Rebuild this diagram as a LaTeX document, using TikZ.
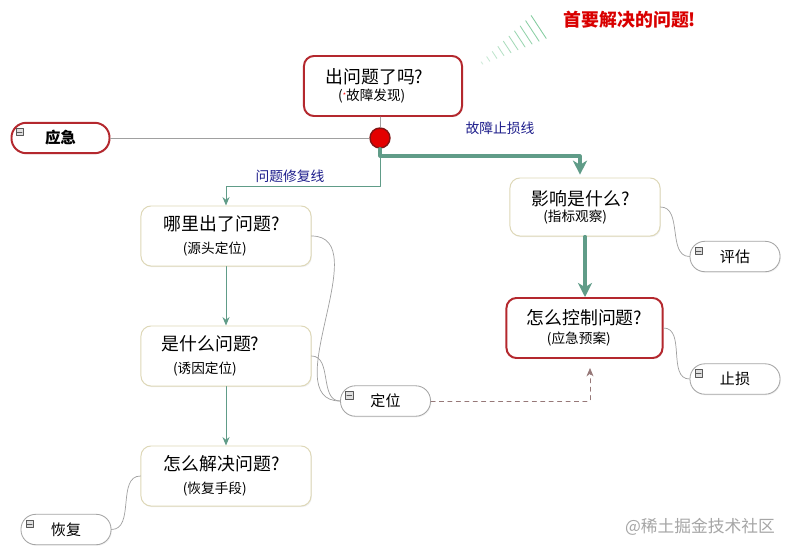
\documentclass[tikz,border=0pt]{standalone}
\usepackage{fontspec}
\setmainfont{Noto Sans CJK SC}
\usetikzlibrary{arrows.meta,shadows,calc}

\definecolor{alarmred}{RGB}{180,40,46}
\definecolor{hubred}{RGB}{228,0,0}
\definecolor{hubrim}{RGB}{130,20,20}
\definecolor{boxbeige}{RGB}{222,216,184}
\definecolor{pillgray}{RGB}{165,165,165}
\definecolor{linegreen}{RGB}{96,156,136}
\definecolor{hashgreen}{RGB}{120,200,150}
\definecolor{twiggray}{RGB}{160,160,160}
\definecolor{labelblue}{RGB}{30,30,140}
\definecolor{dashmauve}{RGB}{150,120,120}

\newcommand\qfont{\fontsize{12.7}{17}\selectfont}
\newcommand\subfont{\fontsize{9.7}{14}\selectfont}

\tikzset{
  qbox/.style={draw=boxbeige, line width=0.7pt, rounded corners=0.25cm, fill=white,
    align=center, inner sep=0pt,
    drop shadow={opacity=0.12, shadow xshift=0.6pt, shadow yshift=-0.8pt}},
  keybox/.style={qbox, draw=alarmred, line width=1.4pt},
  pill/.style={draw=pillgray, line width=0.6pt, rounded corners=0.37cm, fill=white,
    minimum width=2.25cm, minimum height=0.76cm, inner sep=0pt,
    font=\fontsize{10.7}{12}\selectfont,
    drop shadow={opacity=0.1, shadow xshift=0.6pt, shadow yshift=-0.8pt}},
  foldbox/.style={draw=gray!70!black, fill=gray!25, line width=0.3pt,
    minimum size=0.19cm, inner sep=0pt,
    path picture={\draw[line width=0.4pt] ([xshift=1pt]path picture bounding box.west)
      -- ([xshift=-1pt]path picture bounding box.east);}},
  flow/.style={draw=linegreen, line width=0.7pt, -{Stealth[length=6pt,width=5pt]}},
  mainflow/.style={draw=linegreen, line width=2.2pt, -{Stealth[length=10pt,width=10pt,inset=3pt]}},
  twig/.style={draw=twiggray, line width=0.5pt},
  lanetext/.style={text=labelblue, font=\fontsize{9.8}{11}\selectfont},
}

\begin{document}
\begin{tikzpicture}[
  x=0.025cm, y=-0.025cm,
  line cap=round,
  line join=round
]
  \def\bw{4.25cm}
  \def\bh{1.5cm}

  \useasboundingbox[fill=white] (0,0) rectangle (791,552);

  % Исходный вопрос и узел
  \node[keybox, minimum width=3.95cm, minimum height=\bh] (q0) at (383,86)
    {\qfont 出问题了吗?\hspace*{12pt}\\[0.5pt]\subfont (\raisebox{2pt}{\textcolor{red}{\tiny *}}故障发现)\hspace*{16pt}};
  \node[circle, fill=hubred, draw=hubrim, line width=1pt, minimum size=0.5cm, inner sep=0pt] (hub) at (380,138) {};

  \node[pill, draw=alarmred, line width=1.4pt, minimum width=2.45cm, font=\bfseries\fontsize{11}{12}\selectfont] (emp) at (60.5,138) {应急};

  % Ветка восстановления
  \node[qbox, minimum width=\bw, minimum height=\bh] (q1) at (226,236)
    {\qfont 哪里出了问题?\hspace*{6pt}\\[4pt]\subfont (源头定位)\hspace*{16pt}};
  \node[qbox, minimum width=\bw, minimum height=\bh] (q2) at (226,356)
    {\qfont 是什么问题?\hspace*{22pt}\\[4pt]\subfont (诱因定位)\hspace*{30pt}};
  \node[qbox, minimum width=\bw, minimum height=\bh] (q3) at (226,476)
    {\qfont 怎么解决问题?\hspace*{6pt}\\[4pt]\subfont (恢复手段)\hspace*{16pt}};

  % Ветка остановки потерь
  \node[qbox, minimum width=3.75cm, minimum height=1.45cm] (q4) at (585,207)
    {\qfont 影响是什么?\hspace*{6pt}\\[-0.5pt]\subfont (指标观察)\hspace*{14pt}};
  \node[keybox, minimum width=3.9cm, minimum height=\bh] (q5) at (584.5,328)
    {\qfont 怎么控制问题?\\[1.5pt]\subfont (应急预案)\hspace*{8pt}};

  % Листья
  \node[pill] (locp) at (385.5,401) {定位};
  \node[pill] (recp) at (66,529.5) {恢复};
  \node[pill] (evalp) at (735,256.5) {评估};
  \node[pill] (stopp) at (735,379) {止损};

  \foreach \p in {emp,locp,recp,evalp,stopp}
    \node[foldbox] at ([shift={(0.23cm,-0.25cm)}]\p.north west) {};

  % Соединения
  \draw[twig] (emp.east) -- (hub.west);
  \draw[twig] (q0.south -| hub) -- (hub.north);

  \coordinate (k1) at (580,156);
  \coordinate (r1) at (226,186);
  \coordinate (d1) at (590,368);

  \draw[flow] (hub.south) |- (r1) -- (q1.north);
  \draw[mainflow] (hub.south) |- (k1) -- ([yshift=2pt]k1 |- q4.north);
  \draw[flow] (q1) -- (q2);
  \draw[flow] (q2) -- (q3);
  \draw[mainflow] (q4.south -| 585,0) -- (q5.north -| 585,0);

  \draw[dashmauve, line width=0.5pt, dashed, -{Stealth[length=6pt,width=5pt]}] (locp.east) -| (d1);

  \draw[twig] (q1.east) to[out=0,in=180] (locp.west);
  \draw[twig] (q2.east) to[out=0,in=180] (locp.west);
  \draw[twig] (q3.west) to[out=180,in=0] (recp.east);
  \draw[twig] (q4.east) to[out=0,in=180] (evalp.west);
  \draw[twig] (q5.east) to[out=0,in=180] (stopp.west);

  % Подписи
  \node[lanetext] (fixlane) at (290,176) {问题修复线};
  \node[lanetext] (stoplane) at (500,128) {故障止损线};

  \node[text=red!85!black, font=\bfseries\fontsize{12.7}{14}\selectfont] (headline) at (630,20) {首要解决的问题!};

  % Штрихи
  \foreach \i in {0,...,9}
    \draw[hashgreen, line width=0.6pt, opacity=0.35+0.065*\i]
      ($(482+6.3*\i,63-4*\i)+(-0.55*\i*1.35-0.8,-0.84*\i*1.35-1.2)$)
      -- ($(482+6.3*\i,63-4*\i)+(0.55*\i*1.35+0.8,0.84*\i*1.35+1.2)$);

  \node[text=gray!70, font=\fontsize{11.9}{13}\selectfont] (mark) at (700,527) {@稀土掘金技术社区};
\end{tikzpicture}
\end{document}
